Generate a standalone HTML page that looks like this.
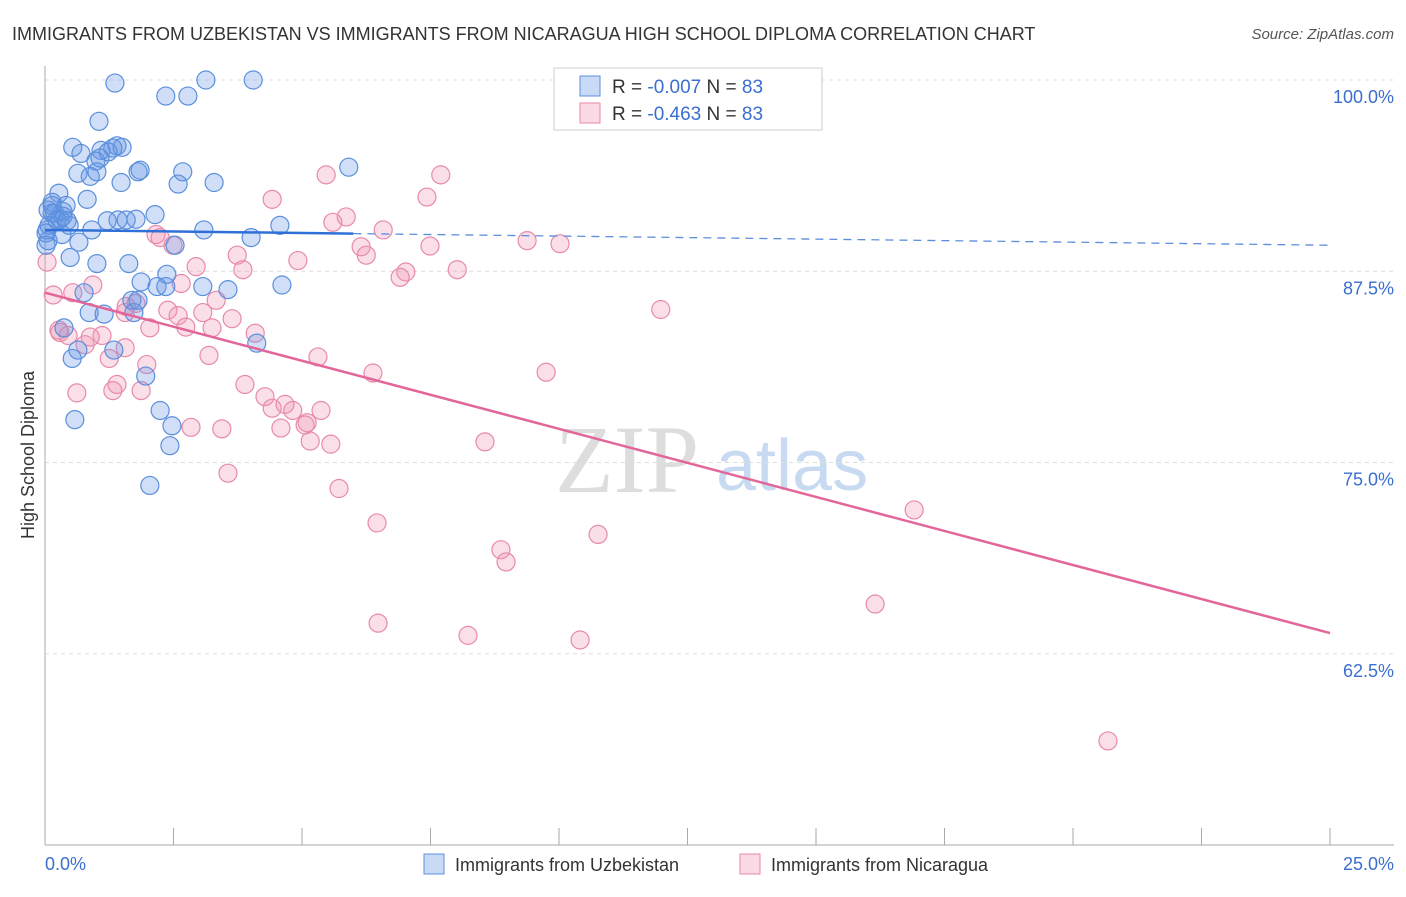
<!DOCTYPE html>
<html><head><meta charset="utf-8"><style>
body{margin:0;background:#fff;font-family:"Liberation Sans",sans-serif}
</style></head><body>
<svg id="c" width="1406" height="892" viewBox="0 0 1406 892" xmlns="http://www.w3.org/2000/svg">
<text x="12" y="40" font-size="18" fill="#333">IMMIGRANTS FROM UZBEKISTAN VS IMMIGRANTS FROM NICARAGUA HIGH SCHOOL DIPLOMA CORRELATION CHART</text>
<text x="1394" y="39" font-size="15" fill="#555" font-style="italic" text-anchor="end">Source: ZipAtlas.com</text>
<text x="555" y="492" font-size="96" fill="#ddd" font-family="Liberation Serif,serif">ZIP</text>
<text x="716" y="490" font-size="72" fill="#c8daf2">atlas</text>
<text transform="translate(34,455) rotate(-90)" font-size="18" fill="#333" text-anchor="middle">High School Diploma</text>
<g id="grid"></g><g id="marks"></g>
<g>
<rect x="554" y="68" width="268" height="62" fill="#fff" stroke="#ccc"/>
<rect x="580" y="76" width="20" height="20" fill="rgba(100,150,230,0.35)" stroke="#5b8fdc"/>
<text x="612" y="93" font-size="19" fill="#333">R = <tspan fill="#3a6fd0">-0.007</tspan>   N = <tspan fill="#3a6fd0">83</tspan></text>
<rect x="580" y="103" width="20" height="20" fill="rgba(240,150,180,0.35)" stroke="#e88aab"/>
<text x="612" y="120" font-size="19" fill="#333">R = <tspan fill="#3a6fd0">-0.463</tspan>   N = <tspan fill="#3a6fd0">83</tspan></text>
</g>
<g>
<rect x="424" y="854" width="20" height="20" fill="rgba(100,150,230,0.35)" stroke="#5b8fdc"/>
<text x="455" y="871" font-size="18" fill="#333">Immigrants from Uzbekistan</text>
<rect x="740" y="854" width="20" height="20" fill="rgba(240,150,180,0.35)" stroke="#e88aab"/>
<text x="771" y="871" font-size="18" fill="#333">Immigrants from Nicaragua</text>
</g>
</svg>
<script>
const yTicks=[100,87.5,75,62.5];
const yTickLabels=["100.0%","87.5%","75.0%","62.5%"];
const xEndLabels=["0.0%","25.0%"];
const blueX=[1.36,3.13,4.05,2.35,2.78,1.05,0.54,0.70,1.09,1.40,1.50,0.99,1.07,0.88,0.64,1.01,1.48,1.81,1.85,2.68,2.59,3.29,5.91,0.27,0.14,0.82,0.41,0.19,0.35,1.42,1.21,1.58,1.77,2.14,3.09,4.57,0.04,0.08,0.47,0.33,0.91,0.66,2.53,4.01,0.06,0.49,1.01,1.63,2.37,0.76,1.87,2.18,2.35,3.07,3.56,4.61,1.69,0.86,1.15,1.73,0.37,1.34,4.12,0.64,0.53,1.96,2.24,0.58,2.47,2.43,2.04,0.14,0.29,1.32,1.23,1.81,0.02,0.02,0.35,0.23,0.43,0.06,0.14];
const blueY=[99.8,100,100,98.95,98.95,97.3,95.6,95.2,95.4,95.7,95.6,94.7,94.9,93.7,93.9,94.0,93.3,94.0,94.1,94.0,93.2,93.3,94.3,92.6,92.0,92.2,91.8,91.3,91.1,90.85,90.8,90.85,90.9,91.2,90.2,90.5,90.2,90.5,90.5,89.9,90.2,89.4,89.2,89.7,89.5,88.4,88.0,88.0,87.3,86.1,86.8,86.5,86.5,86.5,86.3,86.6,85.6,84.8,84.7,84.8,83.8,82.35,82.8,82.35,81.8,80.65,78.4,77.8,77.4,76.1,73.5,91.3,90.9,95.55,95.3,85.6,90.0,89.2,91.4,90.85,90.8,91.5,91.8];
const pinkX=[0.04,0.16,7.70,5.47,4.42,7.43,5.86,5.60,6.58,2.16,2.24,2.49,6.15,6.25,7.49,9.38,10.02,3.74,3.85,2.94,4.92,7.02,6.91,8.02,0.54,0.93,2.65,3.33,2.39,2.59,3.07,3.64,1.58,1.77,1.56,0.29,0.45,0.27,1.11,2.74,2.04,3.25,4.09,0.78,1.25,1.56,1.98,3.19,5.31,6.38,9.75,11.98,1.40,1.32,0.62,1.87,3.89,4.28,4.42,4.67,4.82,5.37,2.84,3.44,4.59,5.10,5.16,5.56,8.56,3.56,5.72,6.46,8.87,8.97,10.76,16.91,16.15,6.48,8.23,10.41,20.68,0.88,5.06];
const pinkY=[88.1,85.95,93.8,93.8,92.2,92.35,91.05,90.7,90.2,89.9,89.7,89.2,89.1,88.55,89.15,89.5,89.3,88.55,87.6,87.8,88.2,87.45,87.1,87.6,86.1,86.6,86.7,85.6,84.95,84.6,84.8,84.4,85.2,85.4,84.8,83.5,83.3,83.65,83.3,83.85,83.8,83.8,83.45,82.7,81.8,82.5,81.4,82.0,81.9,80.85,80.9,85.0,80.1,79.7,79.55,79.7,80.1,79.3,78.55,78.8,78.4,78.4,77.3,77.2,77.25,77.6,76.4,76.2,76.35,74.3,73.3,71.05,69.3,68.5,70.3,71.9,65.75,64.5,63.7,63.4,56.8,83.2,77.45];
const blueTrend=[90.2,89.2];
const pinkTrend=[86.1,63.85];
const NS="http://www.w3.org/2000/svg";
const xs=v=>45+v*51.4, ys=v=>80+(100-v)*15.3;
const grid=document.getElementById('grid'), marks=document.getElementById('marks');
function mk(tag,attrs,parent){const e=document.createElementNS(NS,tag);for(const k in attrs)e.setAttribute(k,attrs[k]);parent.appendChild(e);return e;}
yTicks.forEach((t,i)=>{
  const l=mk('line',{x1:45,x2:1394,y1:ys(t),y2:ys(t),stroke:'#ddd','stroke-dasharray':'4,4'},grid);
  
  
  const tx=mk('text',{x:1394,y:ys(t)+23,'font-size':18,fill:'#3a6fd0','text-anchor':'end'},grid);
  tx.textContent=yTickLabels[i];
  
  
});
const ax=mk('line',{x1:45,x2:45,y1:66,y2:845,stroke:'#aaa'},grid);


const bx=mk('line',{x1:45,x2:1394,y1:845,y2:845,stroke:'#aaa'},grid);


for(let i=0;i<=10;i++){
  const t=mk('line',{x1:xs(i*2.5),x2:xs(i*2.5),y1:828,y2:845,stroke:'#aaa'},grid);
  
  
}
[[0,'start'],[25,'end']].forEach((p,i)=>{
  const t=mk('text',{x:i?1394:45,y:870,'font-size':18,fill:'#3a6fd0','text-anchor':p[1]},grid);
  t.textContent=xEndLabels[i];
  
  
});
function pts(X,Y,fill,stroke,name){
  X.forEach((x,i)=>{
    const c=mk('circle',{cx:xs(x),cy:ys(Y[i]),r:9,fill:fill,stroke:stroke,'stroke-width':1.2},marks);
    
    
  });
}
pts(pinkX,pinkY,'rgba(240,150,180,0.3)','#e88aab','nicaragua-point');
pts(blueX,blueY,'rgba(100,150,230,0.3)','#5b8fdc','uzbekistan-point');
const by=x=>blueTrend[0]+(blueTrend[1]-blueTrend[0])*x/25;
const bl=mk('line',{x1:xs(0),y1:ys(by(0)),x2:xs(6),y2:ys(by(6)),stroke:'#2e6fd8','stroke-width':2.5},marks);


const bd=mk('line',{x1:xs(6),y1:ys(by(6)),x2:xs(25),y2:ys(by(25)),stroke:'#5b8fdc','stroke-width':1.3,'stroke-dasharray':'8,6'},marks);


const pl=mk('line',{x1:xs(0),y1:ys(pinkTrend[0]),x2:xs(25),y2:ys(pinkTrend[1]),stroke:'#e2669a','stroke-width':2.5},marks);


</script>
</body></html>
